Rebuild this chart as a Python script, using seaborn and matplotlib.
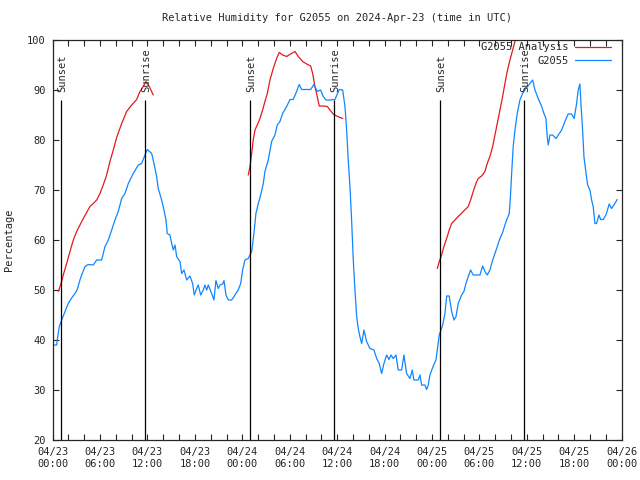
import pandas as pd
import numpy as np
import matplotlib
matplotlib.use("Agg")
import matplotlib.pyplot as plt
import seaborn as sns

# hours since 2024-04-23 00:00 UTC
obs_hours = [0.16, 0.51, 0.58, 0.84, 1.14, 1.56, 1.97, 2.40, 2.82, 3.11, 3.45, 3.67, 4.09, 4.50, 5.14, 5.57,
             6.20, 6.62, 7.04, 7.47, 7.88, 8.30, 8.73, 9.15, 9.57, 10.20, 10.83, 11.26, 11.68, 11.97, 12.53,
             12.82, 13.16, 13.36, 13.79, 14.08, 14.34, 14.50, 14.84, 15.06, 15.26, 15.48, 15.69, 16.11, 16.32,
             16.61, 16.96, 17.37, 17.71, 17.92, 18.22, 18.42, 18.73, 19.06, 19.27, 19.49, 19.69, 20.12, 20.41,
             20.66, 20.95, 21.17, 21.51, 21.68, 21.93, 22.22, 22.65, 23.07, 23.48, 23.79, 24.04, 24.33, 24.75,
             25.18, 25.47, 25.72, 26.02, 26.32, 26.65, 26.86, 27.28, 27.71, 28.13, 28.42, 28.76, 29.10, 29.61,
             30.03, 30.44, 30.87, 31.20, 31.51, 32.14, 32.65, 33.06, 33.48, 33.91, 34.24, 34.58, 35.09, 35.72,
             36.27, 36.70, 36.99, 37.20, 37.40, 37.62, 37.83, 38.04, 38.25, 38.47, 38.67, 38.88, 39.10, 39.39,
             39.73, 40.15, 40.66, 41.00, 41.33, 41.63, 41.92, 42.26, 42.55, 42.81, 43.10, 43.44, 43.73, 44.16,
             44.45, 44.79, 45.21, 45.50, 45.72, 46.26, 46.48, 46.69, 47.11, 47.32, 47.53, 47.74, 48.16, 48.50,
             48.67, 48.92, 49.35, 49.64, 49.86, 50.18, 50.49, 50.78, 51.04, 51.32, 51.75, 52.04, 52.30, 52.59,
             52.89, 53.22, 53.65, 54.07, 54.41, 54.70, 54.99, 55.33, 55.68, 55.97, 56.26, 56.60, 56.94, 57.23,
             57.52, 57.78, 57.95, 58.08, 58.28, 58.50, 58.79, 59.13, 59.47, 59.89, 60.40, 60.74, 61.03, 61.44,
             61.88, 62.17, 62.42, 62.58, 62.71, 62.93, 63.27, 63.69, 63.98, 64.41, 64.82, 65.24, 65.67, 66.00,
             66.30, 66.51, 66.72, 66.85, 67.06, 67.23, 67.44, 67.70, 67.99, 68.20, 68.40, 68.62, 68.83, 69.13,
             69.34, 69.67, 70.01, 70.43, 70.73, 71.02, 71.44]
obs_rh = [39, 39, 40, 42.7, 44, 45.7, 47.3, 48.4, 49.3, 50.1, 52, 53, 54.7, 55.1, 55, 56,
          56, 58.7, 60, 62, 64, 65.7, 68.3, 69.3, 71.3, 73.3, 75, 75.3, 77, 78.1, 77.3,
          75.3, 72.7, 70.3, 68, 66, 64, 61.3, 61, 59.3, 58, 59, 56.7, 55.7, 53.3,
          54, 52, 52.8, 51.3, 49, 50.3, 51, 49, 50, 51, 50, 51, 49.3, 48,
          51.9, 50.3, 51, 51.2, 51.9, 49, 48, 48, 49, 50, 51.3, 54, 56, 56.3,
          57.7, 61.3, 65.3, 67.3, 69, 71.3, 73.7, 76, 79.7, 81, 83, 83.7, 85.3, 86.7,
          88.1, 88.1, 89.7, 91.1, 90.1, 90.1, 90.1, 91.1, 89.7, 90, 88.7, 88, 88, 88.1,
          90.1, 90, 86.7, 82, 76, 70.7, 64, 56, 50, 44.7, 42.3, 40.7, 39.3, 42,
          39.7, 38.3, 38, 36.3, 35.3, 33.3, 35.3, 37, 36.1, 37, 36.3, 37, 34, 34,
          37, 33.3, 32.3, 34, 32, 32, 33, 31, 31, 30.1, 31, 33, 34.8, 36,
          38, 41, 43, 45.3, 48.8, 48.8, 45.7, 44, 44.7, 47.3, 49, 49.7, 51.3, 52.7,
          54, 53, 53, 53, 54.8, 53.7, 53, 54, 56, 57.3, 58.7, 60.3, 61.5, 63,
          64.3, 65.3, 69.3, 73.3, 78.7, 82, 85.3, 88, 89.3, 90.3, 91.3, 92, 90, 88.3,
          86.7, 85.3, 84.3, 80.7, 79, 81, 81, 80.3, 81, 82, 83.7, 85.2, 85.2, 84.3,
          87.3, 90, 91.2, 87.3, 82, 76.7, 74, 71, 70, 68, 66.7, 63.3, 63.3, 65,
          64.1, 64.1, 65, 67.2, 66.3, 67, 68.1]

ana1_hours = [0.71, 1.01, 1.34, 1.77, 2.19, 2.61, 3.04, 3.45, 3.87, 4.30, 4.72, 5.14, 5.57, 5.99, 6.40,
              6.83, 7.25, 7.67, 8.10, 8.73, 9.36, 10.00, 10.63, 11.05, 11.46, 11.81, 12.22, 12.73]
ana1_rh = [49.7, 51, 53, 55.3, 57.7, 60, 61.7, 63, 64.3, 65.5, 66.7, 67.3, 68, 69.3, 71,
           73, 75.7, 78, 80.5, 83.3, 85.7, 87, 88.1, 89.7, 90.7, 91.7, 90.7, 89]
ana2_hours = [24.75, 24.97, 25.18, 25.38, 25.60, 25.89, 26.23, 26.57, 26.86, 27.16, 27.50, 27.91, 28.34,
              28.67, 29.10, 29.61, 30.12, 30.66, 31.08, 31.63, 32.14, 32.65, 32.90, 33.19, 33.48, 33.73,
              34.24, 34.75, 35.09, 35.51, 35.94, 36.35, 36.70]
ana2_rh = [73, 74.7, 77.3, 80, 82, 83, 84.3, 86, 87.7, 89.3, 92, 94.3, 96.3,
           97.5, 97, 96.7, 97.2, 97.7, 96.7, 95.7, 95.2, 94.8, 93.3, 90.7, 88.7, 86.8,
           86.8, 86.7, 86, 85.2, 84.8, 84.5, 84.3]
ana3_hours = [48.67, 48.92, 49.22, 49.51, 49.86, 50.18, 50.49, 50.91, 51.32, 51.96, 52.59, 52.89, 53.22,
              53.56, 53.85, 54.28, 54.70, 54.99, 55.33, 55.68, 55.97, 56.26, 56.60, 56.94, 57.23, 57.52,
              57.87, 58.21, 58.50, 58.80]
ana3_rh = [54.3, 55.7, 57, 58.7, 60.3, 62, 63.3, 64, 64.7, 65.7, 66.7, 68, 69.7,
           71.3, 72.3, 72.8, 73.7, 75.3, 76.7, 78.7, 81, 83.3, 86, 88.7, 91.3, 93.7,
           96, 98, 99.7, 101.5]

sun_hours = [1.0, 11.64, 25.03, 35.64, 49.0, 59.66]
sun_labels = ["Sunset", "Sunrise", "Sunset", "Sunrise", "Sunset", "Sunrise"]

tick_hours = list(range(0, 73, 6))
tick_labels = ["04/23\n00:00", "04/23\n06:00", "04/23\n12:00", "04/23\n18:00",
               "04/24\n00:00", "04/24\n06:00", "04/24\n12:00", "04/24\n18:00",
               "04/25\n00:00", "04/25\n06:00", "04/25\n12:00", "04/25\n18:00",
               "04/26\n00:00"]

sns.set_style("ticks")
plt.rcParams['font.family'] = ['DejaVu Sans Mono']
plt.rcParams['font.size'] = 7.5

obs = pd.DataFrame({"hour": obs_hours, "rh": obs_rh})
ana = pd.concat([
    pd.DataFrame({"hour": ana1_hours, "rh": ana1_rh, "seg": 1}),
    pd.DataFrame({"hour": ana2_hours, "rh": ana2_rh, "seg": 2}),
    pd.DataFrame({"hour": ana3_hours, "rh": ana3_rh, "seg": 3}),
])

fig = plt.figure(figsize=(6.4, 4.8), dpi=100)
ax = fig.add_axes([0.0823, 0.0833, 0.889, 0.8334])

sns.lineplot(data=ana, x="hour", y="rh", units="seg", estimator=None, color="#e41a1c",
             lw=0.9, ax=ax, label="G2055 Analysis")
sns.lineplot(data=obs, x="hour", y="rh", color="#0f86ff", lw=0.9, ax=ax, label="G2055")

ax.vlines(sun_hours, 20, 88, color="black", lw=0.9)
for h, lab in zip(sun_hours, sun_labels):
    ax.text(h + 0.15, 89.5, lab, rotation=90, ha="center", va="bottom")

ax.set_xlim(0, 72)
ax.set_ylim(20, 100)
ax.set_xticks(tick_hours)
ax.set_xticklabels(tick_labels)
ax.set_xticks(np.arange(0, 73, 2), minor=True)
ax.set_yticks(range(20, 101, 10))
ax.tick_params(which="both", direction="in", top=True, right=True, length=4, width=0.8, pad=5)
for s in ax.spines.values():
    s.set_linewidth(0.9)
ax.set_xlabel("")
ax.set_ylabel("Percentage", labelpad=9)
ax.set_title("Relative Humidity for G2055 on 2024-Apr-23 (time in UTC)", pad=14, fontsize=7.5)

# one legend entry per series
handles, labels = ax.get_legend_handles_labels()
seen = {}
for hnd, lab in zip(handles, labels):
    if lab not in seen:
        seen[lab] = hnd
ax.legend(list(seen.values()), list(seen.keys()), loc="upper right", bbox_to_anchor=(0.995, 1.012),
          frameon=False, markerfirst=False, handlelength=3.5, handletextpad=0.6,
          labelspacing=0.35, borderaxespad=0.3)

fig.savefig("out.png", dpi=100)
